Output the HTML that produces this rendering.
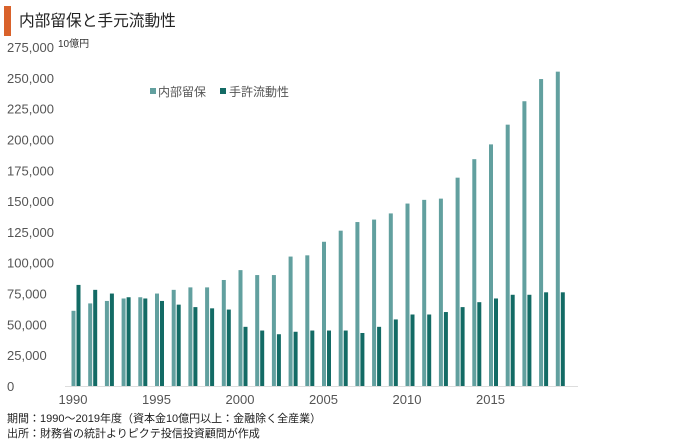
<!DOCTYPE html>
<html><head><meta charset="utf-8"><style>
body{margin:0;background:#fff;font-family:"Liberation Sans","Noto Sans CJK JP",sans-serif;}
#wrap{position:relative;width:680px;height:444px;overflow:hidden;}
</style></head><body>
<div id="wrap">
<svg id="chart" width="680" height="444" xmlns="http://www.w3.org/2000/svg">
<rect x="4" y="6" width="7" height="30" fill="#d9622b"/>
<text x="19" y="26" font-size="15.7" fill="#222" font-family="Liberation Sans,Noto Sans CJK JP,sans-serif">内部留保と手元流動性</text>
<text x="58" y="47" font-size="10" fill="#333" font-family="Liberation Sans,Noto Sans CJK JP,sans-serif">10億円</text>
<g id="yaxis"></g>
<g id="xaxis"></g>
<g id="bars"></g>
<g>
<rect x="150" y="88" width="6" height="6" fill="#62a09f"/>
<text x="158" y="96" font-size="12" fill="#555" font-family="Liberation Sans,Noto Sans CJK JP,sans-serif">内部留保</text>
<rect x="220" y="88" width="6" height="6" fill="#136b65"/>
<text x="229" y="96" font-size="12" fill="#555" font-family="Liberation Sans,Noto Sans CJK JP,sans-serif">手許流動性</text>
</g>
<text x="7" y="422" font-size="11" fill="#222" font-family="Liberation Sans,Noto Sans CJK JP,sans-serif">期間：1990～2019年度（資本金10億円以上：金融除く全産業）</text>
<text x="7" y="437" font-size="11" fill="#222" font-family="Liberation Sans,Noto Sans CJK JP,sans-serif">出所：財務省の統計よりピクテ投信投資顧問が作成</text>
</svg>
</div>
<script>
const years=[1990,1991,1992,1993,1994,1995,1996,1997,1998,1999,2000,2001,2002,2003,2004,2005,2006,2007,2008,2009,2010,2011,2012,2013,2014,2015,2016,2017,2018,2019];
const reserves=[61000,67000,69000,71000,72000,75000,78000,80000,80000,86000,94000,90000,90000,105000,106000,117000,126000,133000,135000,140000,148000,151000,152000,169000,184000,196000,212000,231000,249000,255000];
const liquidity=[82000,78000,75000,72000,71000,69000,66000,64000,63000,62000,48000,45000,42000,44000,45000,45000,45000,43000,48000,54000,58000,58000,60000,64000,68000,71000,74000,74000,76000,76000];
const yTicks=[0,25000,50000,75000,100000,125000,150000,175000,200000,225000,250000,275000];
const xTickYears=[1990,1995,2000,2005,2010,2015];
const NS="http://www.w3.org/2000/svg";
const y=v=>386-v*339/275000;
const x=yr=>76+(yr-1990)*16.7;
const yg=document.getElementById('yaxis'),xg=document.getElementById('xaxis'),bg=document.getElementById('bars');
function mk(tag,attrs,parent){const e=document.createElementNS(NS,tag);for(const k in attrs)e.setAttribute(k,attrs[k]);parent.appendChild(e);return e;}
yTicks.forEach(t=>{
  const tx=mk('text',{x:7,y:y(t)+5,'font-size':13,fill:'#555','font-family':'Liberation Sans,sans-serif'},yg);
  
  
  tx.textContent=t.toLocaleString('en-US');
});
const ax=mk('line',{x1:65,x2:578,y1:386.5,y2:386.5,stroke:'#ddd','stroke-width':1},xg);


xTickYears.forEach(yr=>{
  const tx=mk('text',{x:x(yr)-3,y:404,'font-size':13,fill:'#555','text-anchor':'middle','font-family':'Liberation Sans,sans-serif'},xg);
  
  
  tx.textContent=yr;
});
years.forEach((yr,i)=>{
  const a=mk('rect',{x:x(yr)-4.5,y:y(reserves[i]),width:4,height:386-y(reserves[i]),fill:'#62a09f'},bg);
  
  
  const b=mk('rect',{x:x(yr)+0.5,y:y(liquidity[i]),width:4,height:386-y(liquidity[i]),fill:'#136b65'},bg);
  
  
});
</script>
</body></html>
